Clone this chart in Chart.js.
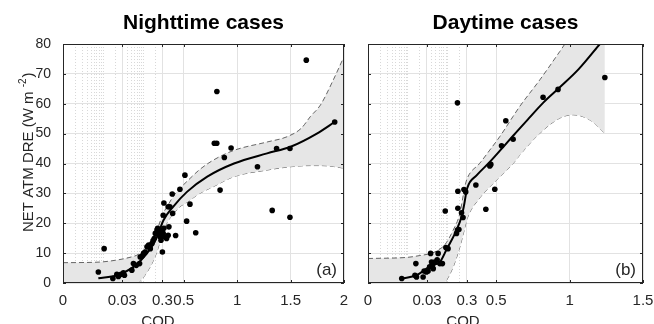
<!DOCTYPE html>
<html>
<head>
<meta charset="utf-8">
<script src="https://cdn.jsdelivr.net/npm/chart.js@4.4.1/dist/chart.umd.min.js"></script>
<style>
  html, body { margin: 0; padding: 0; background: #fff; }
  #wrap { position: relative; width: 654px; height: 324px; overflow: hidden; }
  canvas { position: absolute; top: 0; }
  #night { left: 0; }
  #day { left: 354px; }
</style>
</head>
<body>
<div id="wrap">
  <canvas id="night" width="354" height="324"></canvas>
  <canvas id="day" width="300" height="324"></canvas>
</div>
<script>
const FONT = "'Liberation Sans', Arial, sans-serif";
const INK = "#262626";
const GRID = "#e2e2e2";
const MINOR = "#d8d8d8";

// COD axis: log scale from 0.001 up to 0.3, linear above 0.3
const COD_FLOOR = 0.001;
const COD_BREAK = 0.3;
const minorCod = [0.002, 0.003, 0.004, 0.005, 0.006, 0.007, 0.008, 0.009, 0.01,
  0.02, 0.04, 0.05, 0.06, 0.07, 0.08, 0.09, 0.1, 0.2];
const yTicks = [0, 10, 20, 30, 40, 50, 60, 70, 80];

// ---- nighttime ----
const nightTickCod = [0, 0.03, 0.3, 0.5, 1, 1.5, 2];
const nightTickLabels = ["0", "0.03", "0.3", "0.5", "1", "1.5", "2"];
const nightCod = [0.0076, 0.0106, 0.0175, 0.022, 0.024, 0.028, 0.032, 0.034, 0.052, 0.057,
  0.067, 0.081, 0.084, 0.093, 0.102, 0.112, 0.124, 0.136, 0.15, 0.165,
  0.175, 0.188, 0.2, 0.22, 0.228, 0.241, 0.256, 0.266, 0.277, 0.29,
  0.3, 0.3075, 0.314, 0.323, 0.3, 0.3075, 0.314, 0.354, 0.37, 0.339,
  0.354, 0.361, 0.396, 0.392, 0.424, 0.464, 0.511, 0.527, 0.558, 0.612,
  0.786, 0.809, 0.81, 0.84, 0.88, 0.943, 1.19, 1.328, 1.369, 1.494,
  1.494, 1.647, 1.913];
const nightDre = [3.7, 11.5, 1.5, 2.9, 2.2, 2.9, 3.4, 2.6, 4.3, 6.5,
  5.9, 6.5, 8.7, 9.0, 9.9, 10.4, 12.1, 12.7, 11.5, 13.2,
  14.1, 14.9, 16.6, 17.7, 18.3, 17.1, 16.6, 15.4, 14.3, 16,
  17.7, 16.6, 18.3, 15.4, 10.4, 22.7, 26.8, 25.5, 25.5, 14.9,
  16, 18.8, 23.3, 29.8, 15.9, 31.4, 36.1, 20.7, 26.4, 16.8,
  46.8, 46.8, 64.1, 31.1, 42, 45.2, 38.9, 24.3, 45, 45,
  22, 74.6, 53.9];
const nightFitCod = [0.0076, 0.022, 0.057, 0.124, 0.22, 0.31, 0.4, 0.53, 0.72, 0.97, 1.28, 1.5, 1.75, 1.913];
const nightFitDre = [1.6, 2.6, 5.4, 9.9, 15.4, 21, 25.5, 30.5, 35.6, 40, 43.4, 45.6, 50.1, 53.9];
const nightBandCod = [0.001, 0.008, 0.02, 0.05, 0.076, 0.12, 0.18, 0.22, 0.27, 0.31, 0.34, 0.4,
  0.46, 0.53, 0.65, 0.78, 0.97, 1.28, 1.47, 1.6, 1.685, 1.78, 1.9, 2];
const nightBandHigh = [6.8, 7.0, 7.6, 8.7, 9.6, 12, 15.5, 17.7, 21, 23.5, 25.3, 28.9,
  31.5, 34, 38, 41.2, 44.4, 47.2, 49, 51.8, 55.7, 59.6, 68, 75.8];
const nightBandLow = [-6, -6, -5.5, -2.5, 0, 3.3, 7.6, 10.5, 14.5, 17.5, 20, 23,
  25.4, 27, 30, 32.3, 35.6, 37.8, 38.8, 39.2, 39.3, 39.3, 39, 38.4];

// ---- daytime ----
const dayTickCod = [0, 0.03, 0.3, 0.5, 1, 1.5];
const dayTickLabels = ["0", "0.03", "0.3", "0.5", "1", "1.5"];
const dayCod = [0.007, 0.015, 0.0158, 0.0164, 0.024, 0.0255, 0.029, 0.032, 0.035, 0.037,
  0.039, 0.041, 0.043, 0.047, 0.054, 0.057, 0.063, 0.073, 0.086, 0.089,
  0.101, 0.165, 0.174, 0.178, 0.178, 0.174, 0.189, 0.22, 0.24, 0.253,
  0.28, 0.361, 0.429, 0.456, 0.463, 0.49, 0.536, 0.565, 0.615, 0.819,
  0.921, 1.24];
const dayDre = [1.5, 2.6, 6.5, 2.0, 2.0, 4.0, 3.7, 4.0, 5.4, 9.9,
  7.0, 5.9, 4.8, 7.0, 7.8, 9.9, 6.5, 6.5, 24.1, 11.9,
  11.5, 16.6, 17.7, 30.7, 25, 60.3, 17.9, 23.5, 21.9, 31.3,
  30.5, 32.8, 24.7, 39.2, 39.7, 31.4, 45.9, 54.3, 48.1, 62.2,
  64.8, 68.8];
const dayFitCod = [0.007, 0.0164, 0.039, 0.063, 0.095, 0.165, 0.22, 0.25, 0.302, 0.366,
  0.456, 0.547, 0.615, 0.72, 0.819, 0.933, 1.06, 1.206, 1.24];
const dayFitDre = [1.5, 2.6, 5.9, 7, 11.5, 17.7, 22.2, 25.5, 31.7, 36,
  40.5, 45.5, 49.3, 55, 60.3, 65.5, 71.5, 80, 82];
const dayBandCod = [0.001, 0.01, 0.02, 0.04, 0.06, 0.084, 0.136, 0.2, 0.266, 0.302,
  0.388, 0.456, 0.524, 0.615, 0.66, 0.797, 0.933, 1.024, 1.137, 1.24];
const dayBandHigh = [8.2, 8.6, 9.2, 10, 11.2, 12.8, 17.7, 23.3, 32.2, 35,
  40.1, 44.5, 49, 55.8, 59.1, 68, 77.5, 84, 91, 98];
const dayBandLow = [-8, -7.5, -7, -4, -2, 0, 5.4, 12.1, 18.5, 21.6,
  28.5, 32.2, 35.5, 40, 42.8, 50.1, 55.2, 56.3, 54.6, 50.1];

function codAxis(stretch) {
  const breakU = Math.log10(COD_BREAK / COD_FLOOR);
  return c => c <= COD_BREAK
    ? Math.log10(Math.max(c, COD_FLOOR) / COD_FLOOR)
    : breakU + (c - COD_BREAK) * stretch;
}

function pts(xs, ys, toU) {
  return xs.map((c, i) => ({ x: toU(c), y: ys[i] }));
}

const panelText = {
  id: "panelText",
  afterDraw(chart, args, opts) {
    const { ctx, chartArea: a } = chart;
    ctx.save();
    ctx.strokeStyle = INK;
    ctx.lineWidth = 1;
    ctx.strokeRect(a.left + 0.5, a.top + 0.5, a.width - 1, a.height - 1);

    // small inward tick marks, MATLAB style
    const xs = chart.scales.x, ys = chart.scales.y;
    ctx.beginPath();
    opts.ticks.forEach(c => {
      const px = Math.round(xs.getPixelForValue(opts.toU(c))) + 0.5;
      ctx.moveTo(px, a.bottom); ctx.lineTo(px, a.bottom - 3);
      ctx.moveTo(px, a.top); ctx.lineTo(px, a.top + 3);
    });
    yTicks.forEach(v => {
      const py = Math.round(ys.getPixelForValue(v)) + 0.5;
      ctx.moveTo(a.left, py); ctx.lineTo(a.left + 3, py);
      ctx.moveTo(a.right, py); ctx.lineTo(a.right - 3, py);
    });
    ctx.stroke();

    ctx.fillStyle = "#000";
    ctx.font = "bold 21px " + FONT;
    ctx.textAlign = "center";
    ctx.textBaseline = "alphabetic";
    ctx.fillText(opts.title, (a.left + a.right) / 2, 29);

    ctx.fillStyle = INK;
    ctx.font = "17px " + FONT;
    ctx.textAlign = "right";
    ctx.fillText(opts.tag, a.right - 7, a.bottom - 8);

    ctx.font = "15px " + FONT;
    ctx.textAlign = "center";
    ctx.fillText("COD", a.left + 95, 326);

    if (opts.yTitle) {
      ctx.translate(33, 232);
      ctx.rotate(-Math.PI / 2);
      ctx.textAlign = "left";
      ctx.font = "15px " + FONT;
      const main = "NET ATM DRE (W m ";
      ctx.fillText(main, 0, 0);
      let w = ctx.measureText(main).width;
      ctx.font = "10px " + FONT;
      ctx.fillText("-2", w, -7);
      w += ctx.measureText("-2").width + 1;
      ctx.font = "15px " + FONT;
      ctx.fillText(")", w, 0);
    }
    ctx.restore();
  }
};

function makePanel(id, cfg) {
  const toU = codAxis(cfg.stretch);
  const nMajor = cfg.tickCod.length;
  const tickList = cfg.tickCod.concat(minorCod);
  new Chart(document.getElementById(id), {
    type: "line",
    data: {
      datasets: [
        {
          data: pts(cfg.cod, cfg.dre, toU),
          showLine: false,
          pointRadius: 2.8,
          pointBorderWidth: 0,
          pointBackgroundColor: "#000",
        },
        {
          data: pts(cfg.fitCod, cfg.fitDre, toU),
          borderColor: "#000",
          borderWidth: 2,
          pointRadius: 0,
          cubicInterpolationMode: "monotone",
        },
        {
          data: pts(cfg.bandCod, cfg.bandHigh, toU),
          borderColor: "#555",
          borderWidth: 0.9,
          borderDash: [5, 3],
          pointRadius: 0,
          cubicInterpolationMode: "monotone",
          fill: "+1",
          backgroundColor: "#e6e6e6",
        },
        {
          data: pts(cfg.bandCod, cfg.bandLow, toU),
          borderColor: "#555",
          borderWidth: 0.9,
          borderDash: [5, 3],
          pointRadius: 0,
          cubicInterpolationMode: "monotone",
        },
      ],
    },
    options: {
      responsive: false,
      animation: false,
      layout: { padding: { top: 44, right: cfg.padRight, left: 0, bottom: 0 } },
      plugins: {
        legend: { display: false },
        tooltip: { enabled: false },
        panelText: { title: cfg.title, tag: cfg.tag, yTitle: cfg.yTitle, ticks: cfg.tickCod, toU },
      },
      scales: {
        x: {
          type: "linear",
          min: 0,
          max: toU(cfg.tickCod[nMajor - 1]),
          afterBuildTicks: axis => { axis.ticks = tickList.map(c => ({ value: toU(c) })); },
          afterFit: axis => { axis.height = 41; },
          ticks: {
            autoSkip: false,
            maxRotation: 0,
            minRotation: 0,
            padding: 9,
            color: INK,
            font: { family: FONT, size: 15 },
            callback: (v, i) => (i < nMajor ? cfg.tickLabels[i] : ""),
          },
          grid: { drawTicks: false, color: c => (c.index < nMajor ? GRID : MINOR) },
          border: { display: false, dash: c => (c.index < nMajor ? [] : [1, 2]) },
        },
        y: {
          min: 0,
          max: 80,
          afterBuildTicks: axis => { axis.ticks = yTicks.map(v => ({ value: v })); },
          afterFit: axis => { axis.width = cfg.yWidth; },
          ticks: {
            display: cfg.yLabels,
            padding: 12,
            color: INK,
            font: { family: FONT, size: 14 },
          },
          grid: { drawTicks: false, color: GRID },
          border: { display: false },
        },
      },
    },
    plugins: [panelText],
  });
}

makePanel("night", {
  title: "Nighttime cases", tag: "(a)", yTitle: true, yLabels: true, yWidth: 63, padRight: 10,
  stretch: 2.6625, tickCod: nightTickCod, tickLabels: nightTickLabels,
  cod: nightCod, dre: nightDre, fitCod: nightFitCod, fitDre: nightFitDre,
  bandCod: nightBandCod, bandHigh: nightBandHigh, bandLow: nightBandLow,
});

makePanel("day", {
  title: "Daytime cases", tag: "(b)", yTitle: false, yLabels: false, yWidth: 14, padRight: 11,
  stretch: 3.675, tickCod: dayTickCod, tickLabels: dayTickLabels,
  cod: dayCod, dre: dayDre, fitCod: dayFitCod, fitDre: dayFitDre,
  bandCod: dayBandCod, bandHigh: dayBandHigh, bandLow: dayBandLow,
});
</script>
</body>
</html>
